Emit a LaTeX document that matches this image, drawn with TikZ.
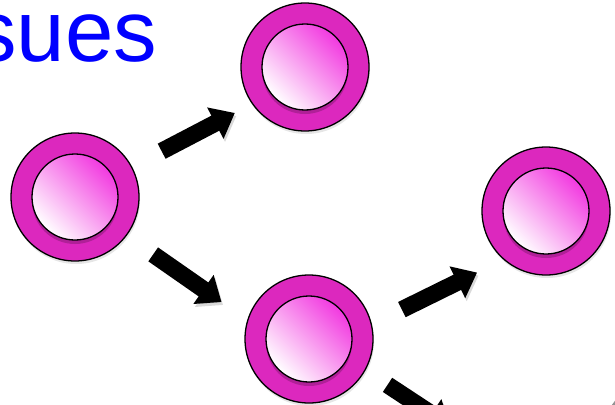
\documentclass[tikz,border=0pt]{standalone}
\usepackage{fontspec}
\setmainfont{Liberation Sans}
\usetikzlibrary{arrows.meta,shadows}
\definecolor{ring}{RGB}{220,40,190}
\definecolor{core}{RGB}{242,58,224}
\definecolor{headblue}{RGB}{0,0,255}

\begin{document}
\begin{tikzpicture}[x=1pt, y=-1pt,
  cell/.style={circle, draw, line width=1.3pt, fill=ring, minimum size=128pt, inner sep=0pt, outer sep=0pt,
    drop shadow={shadow xshift=1pt, shadow yshift=-3pt, opacity=.2},
    path picture={
      \fill[black, opacity=.2] ([yshift=-4pt]path picture bounding box.center) circle (43pt);
      \shadedraw[draw=black, line width=1.3pt, top color=white, middle color=core!50!white, bottom color=core, shading angle=135]
        (path picture bounding box.center) circle (43pt);}},
  arr/.style={line width=17pt, -{Triangle[length=22pt, width=34pt]},
    preaction={draw, black, opacity=.15, transform canvas={shift={(1.5pt,-3pt)}}}}]
\useasboundingbox (0,0) rectangle (615,404);
\clip (0,0) rectangle (615,404);
\node[anchor=base west, inner sep=0pt, font=\fontsize{87}{87}\selectfont, text=headblue] (head) at (-27,62) {sues};
\node[cell] (root) at (75,197) {};
\node[cell] (top) at (305,67) {};
\node[cell] (low) at (309,339) {};
\node[cell] (far) at (546,211) {};
\coordinate (exit) at (450,426);
\coordinate (g1) at (598,434);
\coordinate (g2) at (634,385);
\draw[arr, shorten <=34pt, shorten >=20pt] (root.28) -- (top.215);
\draw[arr, shorten <=33pt, shorten >=32pt] (root.323) -- (low.163);
\draw[arr, shorten <=34pt, shorten >=30pt] (low.13) -- (far.229);
\draw[arr, shorten <=27pt] (low.331) -- (exit);
\draw[line width=12pt, gray!85] (g1) -- (g2);
\end{tikzpicture}
\end{document}
